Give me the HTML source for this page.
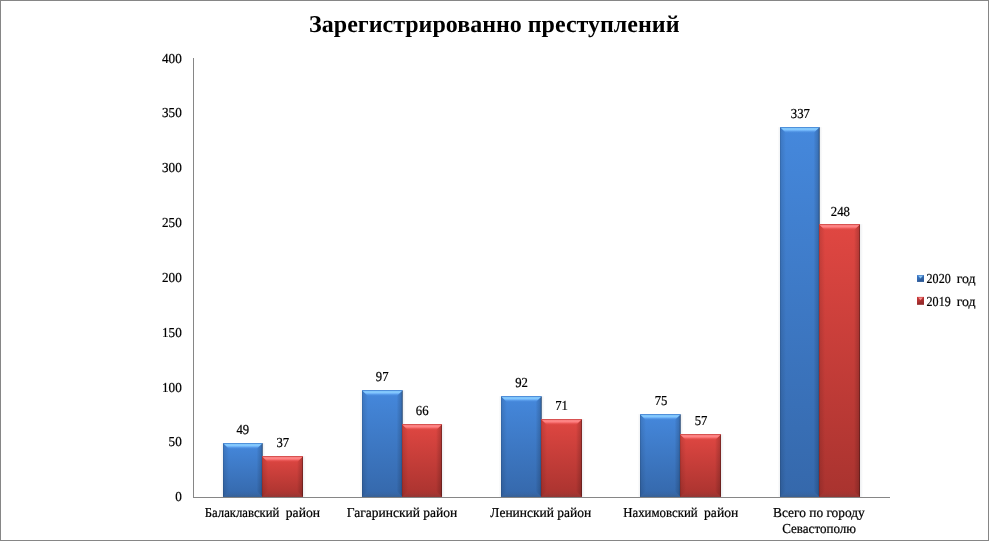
<!DOCTYPE html>
<html lang="ru"><head><meta charset="utf-8"><title>Зарегистрированно преступлений</title>
<style>
html,body{margin:0;padding:0;background:#fff;}
body{width:989px;height:541px;overflow:hidden;}
svg{display:block;font-family:"Liberation Serif",serif;text-rendering:geometricPrecision;}
.t{font-size:13.7px;fill:#000;stroke:#000;stroke-width:0.22px;white-space:pre;}
.title{font-size:24px;font-weight:bold;fill:#000;}
</style></head><body>
<svg width="989" height="541" viewBox="0 0 989 541">
<defs>
<linearGradient id="gb" x1="0" y1="0" x2="0" y2="1"><stop offset="0" stop-color="#4588dc"/><stop offset="1" stop-color="#3568ab"/></linearGradient>
<linearGradient id="gr" x1="0" y1="0" x2="0" y2="1"><stop offset="0" stop-color="#e04742"/><stop offset="1" stop-color="#a9332f"/></linearGradient>
<linearGradient id="hb" x1="0" y1="0" x2="0" y2="1"><stop offset="0" stop-color="#2f6cbf"/><stop offset="0.13" stop-color="#6db4f6"/><stop offset="0.3" stop-color="#8fd3ff"/><stop offset="0.55" stop-color="#74b8fb" stop-opacity="0.95"/><stop offset="1" stop-color="#4a8ee2" stop-opacity="0"/></linearGradient>
<linearGradient id="hr" x1="0" y1="0" x2="0" y2="1"><stop offset="0" stop-color="#b83030"/><stop offset="0.13" stop-color="#f47070"/><stop offset="0.3" stop-color="#ff8f8f"/><stop offset="0.55" stop-color="#fb7474" stop-opacity="0.95"/><stop offset="1" stop-color="#e24a4a" stop-opacity="0"/></linearGradient>
<linearGradient id="rs" x1="0" y1="0" x2="1" y2="0"><stop offset="0" stop-color="#000" stop-opacity="0"/><stop offset="0.3" stop-color="#000" stop-opacity="0.07"/><stop offset="0.75" stop-color="#000" stop-opacity="0.16"/><stop offset="0.88" stop-color="#000" stop-opacity="0.3"/><stop offset="1" stop-color="#000" stop-opacity="0.62"/></linearGradient>
<linearGradient id="ls" x1="0" y1="0" x2="1" y2="0"><stop offset="0" stop-color="#000" stop-opacity="0.26"/><stop offset="0.2" stop-color="#000" stop-opacity="0.1"/><stop offset="0.6" stop-color="#000" stop-opacity="0.05"/><stop offset="1" stop-color="#000" stop-opacity="0"/></linearGradient>
<linearGradient id="halo" x1="0" y1="0" x2="1" y2="0"><stop offset="0" stop-color="#708090" stop-opacity="0.13"/><stop offset="1" stop-color="#708090" stop-opacity="0"/></linearGradient>
<linearGradient id="halol" x1="1" y1="0" x2="0" y2="0"><stop offset="0" stop-color="#708090" stop-opacity="0.10"/><stop offset="1" stop-color="#708090" stop-opacity="0"/></linearGradient>
<linearGradient id="bs" x1="0" y1="0" x2="0" y2="1"><stop offset="0" stop-color="#333" stop-opacity="0"/><stop offset="0.5" stop-color="#444" stop-opacity="0.06"/><stop offset="1" stop-color="#444" stop-opacity="0.22"/></linearGradient>
</defs>
<rect x="0.5" y="0.5" width="988" height="540" fill="#fff" stroke="#868686" stroke-width="1"/>
<text class="title" x="494.3" y="32" text-anchor="middle">Зарегистрированно преступлений</text>

<text class="t" transform="translate(181.70,500.60) scale(0.9600,1)" text-anchor="end" xml:space="preserve">0</text>
<text class="t" transform="translate(181.70,445.90) scale(0.9600,1)" text-anchor="end" xml:space="preserve">50</text>
<text class="t" transform="translate(181.70,391.80) scale(0.9600,1)" text-anchor="end" xml:space="preserve">100</text>
<text class="t" transform="translate(181.70,336.90) scale(0.9600,1)" text-anchor="end" xml:space="preserve">150</text>
<text class="t" transform="translate(181.70,281.90) scale(0.9600,1)" text-anchor="end" xml:space="preserve">200</text>
<text class="t" transform="translate(181.70,226.90) scale(0.9600,1)" text-anchor="end" xml:space="preserve">250</text>
<text class="t" transform="translate(181.70,171.90) scale(0.9600,1)" text-anchor="end" xml:space="preserve">300</text>
<text class="t" transform="translate(181.70,116.90) scale(0.9600,1)" text-anchor="end" xml:space="preserve">350</text>
<text class="t" transform="translate(181.70,62.90) scale(0.9600,1)" text-anchor="end" xml:space="preserve">400</text>
<rect x="262.60" y="443.10" width="3" height="53.90" fill="url(#halo)"/>
<rect x="220.50" y="443.10" width="2.5" height="53.90" fill="url(#halol)"/>
<rect x="223.00" y="443.10" width="39.60" height="53.90" fill="url(#gb)"/>
<polygon points="223.00,443.10 229.00,449.10 229.00,491.00 223.00,497.00" fill="url(#ls)"/>
<polygon points="262.60,443.10 256.60,449.10 256.60,491.00 262.60,497.00" fill="url(#rs)"/>
<polygon points="223.00,497.00 229.00,491.00 256.60,491.00 262.60,497.00" fill="url(#bs)"/>
<polygon points="223.00,443.10 229.00,449.10 256.60,449.10 262.60,443.10" fill="url(#hb)"/>
<rect x="303.00" y="456.15" width="3" height="40.85" fill="url(#halo)"/>
<rect x="262.00" y="456.15" width="41.00" height="40.85" fill="url(#gr)"/>
<polygon points="262.00,456.15 268.00,462.15 268.00,491.00 262.00,497.00" fill="url(#ls)"/>
<polygon points="303.00,456.15 297.00,462.15 297.00,491.00 303.00,497.00" fill="url(#rs)"/>
<polygon points="262.00,497.00 268.00,491.00 297.00,491.00 303.00,497.00" fill="url(#bs)"/>
<polygon points="262.00,456.15 268.00,462.15 297.00,462.15 303.00,456.15" fill="url(#hr)"/>
<text class="t" transform="translate(242.80,433.80) scale(0.9300,1)" text-anchor="middle" xml:space="preserve">49</text>
<text class="t" transform="translate(282.80,446.85) scale(0.9300,1)" text-anchor="middle" xml:space="preserve">37</text>
<rect x="402.60" y="390.15" width="3" height="106.85" fill="url(#halo)"/>
<rect x="359.50" y="390.15" width="2.5" height="106.85" fill="url(#halol)"/>
<rect x="362.00" y="390.15" width="40.60" height="106.85" fill="url(#gb)"/>
<polygon points="362.00,390.15 368.00,396.15 368.00,491.00 362.00,497.00" fill="url(#ls)"/>
<polygon points="402.60,390.15 396.60,396.15 396.60,491.00 402.60,497.00" fill="url(#rs)"/>
<polygon points="362.00,497.00 368.00,491.00 396.60,491.00 402.60,497.00" fill="url(#bs)"/>
<polygon points="362.00,390.15 368.00,396.15 396.60,396.15 402.60,390.15" fill="url(#hb)"/>
<rect x="442.00" y="424.15" width="3" height="72.85" fill="url(#halo)"/>
<rect x="402.00" y="424.15" width="40.00" height="72.85" fill="url(#gr)"/>
<polygon points="402.00,424.15 408.00,430.15 408.00,491.00 402.00,497.00" fill="url(#ls)"/>
<polygon points="442.00,424.15 436.00,430.15 436.00,491.00 442.00,497.00" fill="url(#rs)"/>
<polygon points="402.00,497.00 408.00,491.00 436.00,491.00 442.00,497.00" fill="url(#bs)"/>
<polygon points="402.00,424.15 408.00,430.15 436.00,430.15 442.00,424.15" fill="url(#hr)"/>
<text class="t" transform="translate(382.20,380.85) scale(0.9300,1)" text-anchor="middle" xml:space="preserve">97</text>
<text class="t" transform="translate(422.20,414.85) scale(0.9300,1)" text-anchor="middle" xml:space="preserve">66</text>
<rect x="541.60" y="396.15" width="3" height="100.85" fill="url(#halo)"/>
<rect x="498.50" y="396.15" width="2.5" height="100.85" fill="url(#halol)"/>
<rect x="501.00" y="396.15" width="40.60" height="100.85" fill="url(#gb)"/>
<polygon points="501.00,396.15 507.00,402.15 507.00,491.00 501.00,497.00" fill="url(#ls)"/>
<polygon points="541.60,396.15 535.60,402.15 535.60,491.00 541.60,497.00" fill="url(#rs)"/>
<polygon points="501.00,497.00 507.00,491.00 535.60,491.00 541.60,497.00" fill="url(#bs)"/>
<polygon points="501.00,396.15 507.00,402.15 535.60,402.15 541.60,396.15" fill="url(#hb)"/>
<rect x="582.00" y="419.10" width="3" height="77.90" fill="url(#halo)"/>
<rect x="541.00" y="419.10" width="41.00" height="77.90" fill="url(#gr)"/>
<polygon points="541.00,419.10 547.00,425.10 547.00,491.00 541.00,497.00" fill="url(#ls)"/>
<polygon points="582.00,419.10 576.00,425.10 576.00,491.00 582.00,497.00" fill="url(#rs)"/>
<polygon points="541.00,497.00 547.00,491.00 576.00,491.00 582.00,497.00" fill="url(#bs)"/>
<polygon points="541.00,419.10 547.00,425.10 576.00,425.10 582.00,419.10" fill="url(#hr)"/>
<text class="t" transform="translate(521.60,386.85) scale(0.9300,1)" text-anchor="middle" xml:space="preserve">92</text>
<text class="t" transform="translate(561.60,409.80) scale(0.9300,1)" text-anchor="middle" xml:space="preserve">71</text>
<rect x="680.60" y="414.15" width="3" height="82.85" fill="url(#halo)"/>
<rect x="637.50" y="414.15" width="2.5" height="82.85" fill="url(#halol)"/>
<rect x="640.00" y="414.15" width="40.60" height="82.85" fill="url(#gb)"/>
<polygon points="640.00,414.15 646.00,420.15 646.00,491.00 640.00,497.00" fill="url(#ls)"/>
<polygon points="680.60,414.15 674.60,420.15 674.60,491.00 680.60,497.00" fill="url(#rs)"/>
<polygon points="640.00,497.00 646.00,491.00 674.60,491.00 680.60,497.00" fill="url(#bs)"/>
<polygon points="640.00,414.15 646.00,420.15 674.60,420.15 680.60,414.15" fill="url(#hb)"/>
<rect x="721.00" y="434.15" width="3" height="62.85" fill="url(#halo)"/>
<rect x="680.00" y="434.15" width="41.00" height="62.85" fill="url(#gr)"/>
<polygon points="680.00,434.15 686.00,440.15 686.00,491.00 680.00,497.00" fill="url(#ls)"/>
<polygon points="721.00,434.15 715.00,440.15 715.00,491.00 721.00,497.00" fill="url(#rs)"/>
<polygon points="680.00,497.00 686.00,491.00 715.00,491.00 721.00,497.00" fill="url(#bs)"/>
<polygon points="680.00,434.15 686.00,440.15 715.00,440.15 721.00,434.15" fill="url(#hr)"/>
<text class="t" transform="translate(661.00,404.85) scale(0.9300,1)" text-anchor="middle" xml:space="preserve">75</text>
<text class="t" transform="translate(701.00,424.85) scale(0.9300,1)" text-anchor="middle" xml:space="preserve">57</text>
<rect x="819.60" y="127.10" width="3" height="369.90" fill="url(#halo)"/>
<rect x="777.50" y="127.10" width="2.5" height="369.90" fill="url(#halol)"/>
<rect x="780.00" y="127.10" width="39.60" height="369.90" fill="url(#gb)"/>
<polygon points="780.00,127.10 786.00,133.10 786.00,491.00 780.00,497.00" fill="url(#ls)"/>
<polygon points="819.60,127.10 813.60,133.10 813.60,491.00 819.60,497.00" fill="url(#rs)"/>
<polygon points="780.00,497.00 786.00,491.00 813.60,491.00 819.60,497.00" fill="url(#bs)"/>
<polygon points="780.00,127.10 786.00,133.10 813.60,133.10 819.60,127.10" fill="url(#hb)"/>
<rect x="860.00" y="224.15" width="3" height="272.85" fill="url(#halo)"/>
<rect x="819.00" y="224.15" width="41.00" height="272.85" fill="url(#gr)"/>
<polygon points="819.00,224.15 825.00,230.15 825.00,491.00 819.00,497.00" fill="url(#ls)"/>
<polygon points="860.00,224.15 854.00,230.15 854.00,491.00 860.00,497.00" fill="url(#rs)"/>
<polygon points="819.00,497.00 825.00,491.00 854.00,491.00 860.00,497.00" fill="url(#bs)"/>
<polygon points="819.00,224.15 825.00,230.15 854.00,230.15 860.00,224.15" fill="url(#hr)"/>
<text class="t" transform="translate(800.40,117.80) scale(0.9300,1)" text-anchor="middle" xml:space="preserve">337</text>
<text class="t" transform="translate(840.40,215.85) scale(0.9300,1)" text-anchor="middle" xml:space="preserve">248</text>
<text class="t" y="517.05" xml:space="preserve"><tspan x="204.7" textLength="81.1" lengthAdjust="spacingAndGlyphs">Балаклавский  </tspan><tspan x="285.8" textLength="34.3" lengthAdjust="spacingAndGlyphs">район</tspan></text>
<text class="t" transform="translate(402.00,517.05) scale(0.9854,1)" text-anchor="middle" xml:space="preserve">Гагаринский район</text>
<text class="t" transform="translate(540.80,517.05) scale(0.9850,1)" text-anchor="middle" xml:space="preserve">Ленинский район</text>
<text class="t" y="517.05" xml:space="preserve"><tspan x="623.2" textLength="80.9" lengthAdjust="spacingAndGlyphs">Нахимовский  </tspan><tspan x="704.1" textLength="34.1" lengthAdjust="spacingAndGlyphs">район</tspan></text>
<text class="t" transform="translate(818.90,517.05) scale(0.9768,1)" text-anchor="middle" xml:space="preserve">Всего по городу</text>
<text class="t" transform="translate(819.10,533.20) scale(0.9515,1)" text-anchor="middle" xml:space="preserve">Севастополю</text>
<rect x="193" y="58" width="1" height="440" fill="#868686"/>
<rect x="193" y="497" width="697" height="1" fill="#868686"/>
<linearGradient id="mb" x1="0" y1="0" x2="0" y2="1"><stop offset="0" stop-color="#3c79c9"/><stop offset="1" stop-color="#2e60a4"/></linearGradient><rect x="917" y="275.1" width="7" height="6.8" fill="url(#mb)"/><polygon points="924,275.1 924,281.90000000000003 920.5,278.5" fill="#000" fill-opacity="0.10"/><polygon points="917,281.90000000000003 924,281.90000000000003 920.5,278.5" fill="#000" fill-opacity="0.10"/><polygon points="918.1,275.8 922.9,275.8 920.5,278.5" fill="#9ad8ff" fill-opacity="0.85"/>
<text class="t" y="282.9" xml:space="preserve"><tspan x="926.6" textLength="30.1" lengthAdjust="spacingAndGlyphs">2020  </tspan><tspan x="956.7" textLength="18.8" lengthAdjust="spacingAndGlyphs">год</tspan></text>
<linearGradient id="mr" x1="0" y1="0" x2="0" y2="1"><stop offset="0" stop-color="#cc3a3a"/><stop offset="1" stop-color="#9e2c2c"/></linearGradient><rect x="917" y="296.9" width="7" height="7.9" fill="url(#mr)"/><polygon points="924,296.9 924,304.79999999999995 920.5,300.84999999999997" fill="#000" fill-opacity="0.10"/><polygon points="917,304.79999999999995 924,304.79999999999995 920.5,300.84999999999997" fill="#000" fill-opacity="0.10"/><polygon points="918.1,297.59999999999997 922.9,297.59999999999997 920.5,300.29999999999995" fill="#ffa0a0" fill-opacity="0.85"/>
<text class="t" y="305.6" xml:space="preserve"><tspan x="926.6" textLength="30.1" lengthAdjust="spacingAndGlyphs">2019  </tspan><tspan x="956.7" textLength="18.8" lengthAdjust="spacingAndGlyphs">год</tspan></text>
</svg></body></html>
